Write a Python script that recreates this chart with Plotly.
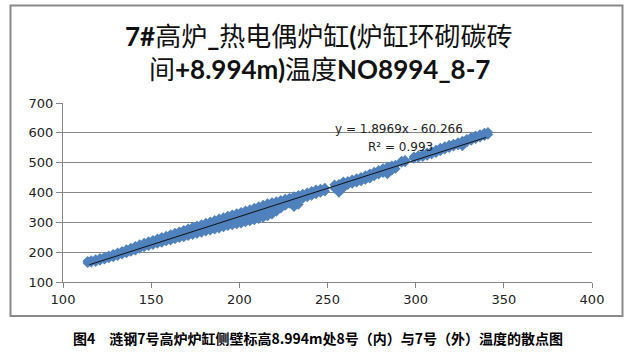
import plotly.graph_objects as go

# x: 7号(外) temperature, y: 8号(内) temperature
t_outer = [114, 116, 118.5, 121, 123.5, 126, 128.5, 131, 133.5, 136, 138.5, 141, 143.5, 146,
           148.5, 151, 153.5, 156, 158.5, 161, 163.5, 166, 168.5, 171, 173.5, 176, 178.5, 181,
           183.5, 186, 188.5, 191, 193.5, 196, 198.5, 201, 203.5, 206, 208.5, 211, 213.5, 216,
           218.5, 221, 223.5, 226, 228.5, 231, 233.5, 236, 238.5, 241, 243.5, 246, 248.5, 254,
           256.5, 259, 261.5, 264, 266.5, 269, 271.5, 274, 276.5, 279, 281.5, 284, 286.5, 288.5,
           292, 294, 299, 301.5, 304, 306.5, 309, 311.5, 314, 316.5, 319, 321.5, 324, 326.5,
           329, 331.5, 334, 336.5, 339, 341]
t_inner = [[164, 170], [166, 172], [168, 176], [172, 180], [176, 184], [180, 188], [184, 193],
           [188, 198], [193, 203], [197, 209], [202, 214], [206, 220], [212, 226], [217, 231],
           [221, 236], [225, 240], [229, 245], [232, 250], [237, 254], [240, 259], [244, 264],
           [248, 269], [251, 262, 274], [255, 267, 279], [258, 271, 284], [262, 276, 289],
           [266, 280, 293], [270, 284, 298], [273, 288, 302], [277, 292, 307], [280, 296, 312],
           [284, 300, 316], [288, 305, 321], [291, 309, 326], [294, 313, 330], [297, 317, 334],
           [301, 321, 339], [304, 325, 343], [308, 330, 348], [312, 334, 353], [316, 339, 358],
           [321, 344, 363], [327, 349, 367], [336, 355, 370], [347, 374], [356, 378], [363, 382],
           [352, 372, 387], [360, 377, 391], [380, 395], [385, 399], [390, 404], [395, 409],
           [400, 412], [404, 415], [414, 426], [400, 412, 428], [415, 425, 436], [426, 438],
           [430, 443], [434, 447], [438, 451], [443, 457], [448, 463], [455, 469], [461, 475],
           [466, 481], [462, 474, 486], [474, 490], [480, 492], [500, 506], [502, 508],
           [514, 520], [517, 524], [520, 528], [524, 533], [528, 538], [533, 543], [539, 549],
           [545, 554], [550, 559], [555, 563], [559, 568], [556, 564, 573], [569, 579],
           [574, 585], [580, 590], [585, 595], [590, 600], [594, 602]]

trend_slope = 1.8969
trend_intercept = -60.266
trend_x = [115, 340]
eq_text = "y = 1.8969x - 60.266"
r2_text = "R² = 0.993"

x_ticks = [100, 150, 200, 250, 300, 350, 400]
y_ticks = [100, 200, 300, 400, 500, 600, 700]

title_line1 = "<b>7#</b>高炉<b>_</b>热电偶炉缸<b>(</b>炉缸环砌碳砖"
title_line2 = "间<b>+8.994m)</b>温度<b>NO8994_8-7</b>"
caption = "图4　涟钢7号高炉炉缸侧壁标高8.994m处8号（内）与7号（外）温度的散点图"

xs, ys = [], []
for xv, group in zip(t_outer, t_inner):
    for yv in group:
        xs.append(xv)
        ys.append(yv)

trend_y = [trend_slope * v + trend_intercept for v in trend_x]

fig = go.Figure()
fig.add_trace(go.Scatter(
    x=xs, y=ys, mode="markers",
    marker=dict(symbol="diamond", size=8, color="#4F81BD", line=dict(width=0)),
    hoverinfo="skip", showlegend=False))
fig.add_trace(go.Scatter(
    x=trend_x, y=trend_y, mode="lines",
    line=dict(color="#111111", width=1), showlegend=False, hoverinfo="skip"))

L, R, T, B = 63, 41, 103, 70
W, H = 633, 352
pw, ph = W - L - R, H - T - B

def px_x(p):
    return (p - L) / pw

def px_y(p):
    return (H - B - p) / ph

fig.update_layout(
    width=W, height=H,
    margin=dict(l=L, r=R, t=T, b=B),
    paper_bgcolor="white", plot_bgcolor="white",
    font=dict(family="DejaVu Sans", size=12, color="#222222"),
    xaxis=dict(range=[100, 400], tickvals=x_ticks, showgrid=False, zeroline=False,
               showline=True, linecolor="#868686", linewidth=1,
               ticks="outside", ticklen=5, tickcolor="#868686",
               tickfont=dict(size=13, color="#222222")),
    yaxis=dict(range=[100, 700], tickvals=y_ticks, showgrid=True, gridcolor="#868686",
               gridwidth=1, zeroline=False, showline=True, linecolor="#868686", linewidth=1,
               ticks="outside", ticklen=6, tickcolor="#868686",
               tickfont=dict(size=13, color="#222222")),
)

fig.add_shape(type="rect", xref="paper", yref="paper",
              x0=px_x(10.5), x1=px_x(622.5), y0=px_y(316), y1=px_y(5.5),
              line=dict(color="#8a8a8a", width=2), fillcolor="rgba(0,0,0,0)", layer="below")

title_font = dict(family="Lato, Noto Sans CJK SC", size=26, color="#111111")
fig.add_annotation(text=title_line1, xref="paper", yref="paper", x=px_x(319), y=px_y(36),
                   xanchor="center", yanchor="middle", showarrow=False, font=title_font)
fig.add_annotation(text=title_line2, xref="paper", yref="paper", x=px_x(319), y=px_y(69),
                   xanchor="center", yanchor="middle", showarrow=False, font=title_font)

eq_font = dict(family="DejaVu Sans", size=12, color="#222222")
fig.add_annotation(text=eq_text, xref="paper", yref="paper", x=px_x(399), y=px_y(129),
                   xanchor="center", yanchor="middle", showarrow=False, font=eq_font)
fig.add_annotation(text=r2_text, xref="paper", yref="paper", x=px_x(400), y=px_y(147),
                   xanchor="center", yanchor="middle", showarrow=False, font=eq_font)

fig.add_annotation(text="<b>" + caption + "</b>", xref="paper", yref="paper",
                   x=px_x(318), y=px_y(338), xanchor="center", yanchor="middle",
                   showarrow=False,
                   font=dict(family="Noto Sans CJK SC", size=14, color="#000000"))

fig.write_html("out.html")
